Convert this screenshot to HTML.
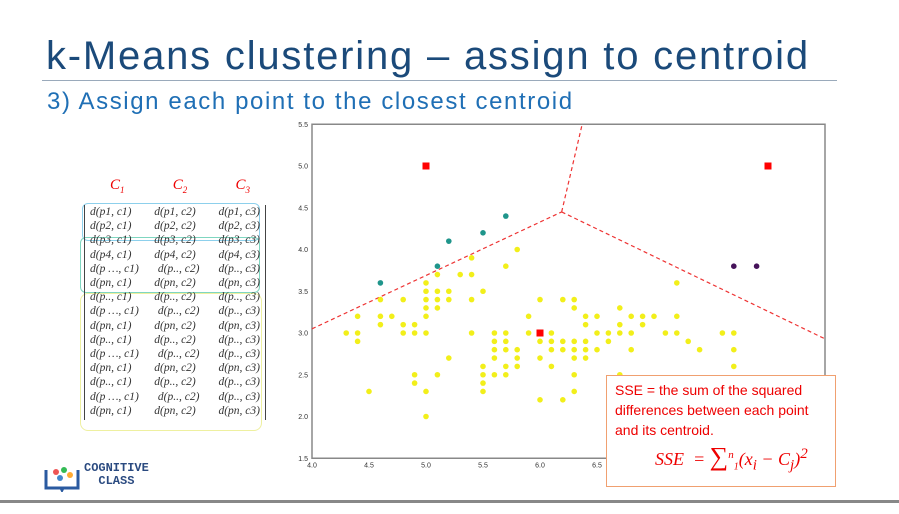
<!DOCTYPE html>
<html><head><meta charset="utf-8"><style>
body{margin:0;width:899px;height:514px;overflow:hidden;background:#fff;font-family:"Liberation Sans",sans-serif;position:relative}
.abs{position:absolute}
</style></head><body>
<div class="abs" style="left:46px;top:34px;font-size:40px;color:#1b4a7a;white-space:nowrap;letter-spacing:1.8px">k-Means clustering – assign to centroid</div>
<div class="abs" style="left:42px;top:80px;width:795px;height:1px;background:#9aaabb"></div>
<div class="abs" style="left:47px;top:88px;font-size:24px;color:#1f6fb5;white-space:nowrap;letter-spacing:1.6px">3) Assign each point to the closest centroid</div>
<div class="abs" style="left:0;top:500px;width:899px;height:3px;background:#888"></div>
<div class="abs" style="left:44px;top:462px;width:140px;height:32px">
 <svg width="36" height="30" style="position:absolute;left:0;top:0"><path d="M2 8v18h15l1 2 1-2h15V8" fill="none" stroke="#2a5aa0" stroke-width="3"/><circle cx="12" cy="10" r="3" fill="#e55"/><circle cx="20" cy="8" r="3" fill="#3b5"/><circle cx="26" cy="13" r="3" fill="#fa3"/><circle cx="16" cy="16" r="3" fill="#48c"/></svg>
 <div style="position:absolute;left:40px;top:0;font-size:12px;font-weight:bold;color:#2a4a80;line-height:13px;font-family:'Liberation Mono',monospace">COGNITIVE<br>&nbsp;&nbsp;CLASS</div>
</div>
<div class="abs" id="mx" style="left:80px;top:175px;width:190px;height:250px"></div>
<svg class="abs" style="left:0;top:0" width="899" height="514" id="chart"></svg>
<div class="abs" style="left:606px;top:375px;width:230px;height:112px;border:1.5px solid #f0a070;background:#fff;color:#e00;font-size:14px;line-height:20px;padding:4px 0 0 8px;box-sizing:border-box">SSE = the sum of the squared differences between each point and its centroid.
<div style="font-family:'Liberation Serif',serif;font-style:italic;font-size:18px;margin:4px 0 0 40px">SSE&nbsp; = <span style="font-size:26px;font-style:normal">∑</span><sup style="font-size:11px">n</sup><sub style="font-size:10px">1</sub>(x<sub>i</sub> − C<sub>j</sub>)<sup>2</sup></div></div>
<script>
const xTicks=[4.0,4.5,5.0,5.5,6.0,6.5,7.0,7.5,8.0];
const yTicks=[1.5,2.0,2.5,3.0,3.5,4.0,4.5,5.0,5.5];
const centroidX=[5.0,8.0,6.0];
const centroidY=[5.0,5.0,3.0];
const tealX=[4.6,5.1,5.2,5.5,5.7];
const tealY=[3.6,3.8,4.1,4.2,4.4];
const purpleX=[7.7,7.9];
const purpleY=[3.8,3.8];
const yellowRows=[3.9,4.0,3.8,3.7,3.6,3.5,3.4,3.3,3.2,3.1,3.0,2.9,2.8,2.7,2.6,2.5,2.4,2.3,2.2,2.0];
const yellowXs=[[5.4],[5.8],[5.7],[5.1,5.3,5.4],[5.0,7.2],[5.0,5.1,5.2,5.5],
[4.6,4.8,5.0,5.1,5.2,5.4,6.0,6.2,6.3],[5.0,5.1,6.3,6.7],
[4.4,4.6,4.7,5.0,5.9,6.4,6.5,6.8,6.9,7.0,7.2],[4.6,4.8,4.9,6.4,6.7,6.9],
[4.3,4.4,4.8,4.9,5.0,5.4,5.6,5.7,5.9,6.1,6.5,6.6,6.7,6.8,7.1,7.2,7.6,7.7],
[4.4,5.6,5.7,6.0,6.1,6.2,6.3,6.4,6.6,7.3],
[5.6,5.7,5.8,6.1,6.2,6.3,6.4,6.5,6.8,7.4,7.7],[5.2,5.6,5.8,6.0,6.3,6.4],
[5.5,5.7,5.8,6.1,7.7],[4.9,5.1,5.5,5.6,5.7,6.3,6.7],[4.9,5.5],[4.5,5.0,5.5,6.3],[6.0,6.2],[5.0]];
const boundaryX=[4.0,6.19,8.5];
const boundaryY=[3.05,4.45,2.93];
const boundaryTopX=6.37;
const NS="http://www.w3.org/2000/svg";
const svg=document.getElementById('chart');
const X=v=>312+(v-4)*114, Y=v=>166+(5-v)*83.5;
function el(t,a){const e=document.createElementNS(NS,t);for(const k in a)e.setAttribute(k,a[k]);svg.appendChild(e);return e;}
const fr=el('rect',{x:X(4),y:Y(5.5),width:X(8.5)-X(4),height:Y(1.5)-Y(5.5),fill:'none',stroke:'#888','stroke-width':1.5});


xTicks.forEach(t=>{if(t>6.5)return;const e=el('text',{x:X(t),y:Y(1.5)+9,'font-size':7,'text-anchor':'middle',fill:'#333'});e.textContent=t.toFixed(1);

});
yTicks.forEach(t=>{const e=el('text',{x:308,y:Y(t)+2.5,'font-size':7,'text-anchor':'end',fill:'#333'});e.textContent=t.toFixed(1);

});
const ln=(x1,y1,x2,y2)=>{const e=el('line',{x1,y1,x2,y2,stroke:'#e33','stroke-width':1.2,'stroke-dasharray':'4 3'});

};
ln(X(boundaryX[0]),Y(boundaryY[0]),X(boundaryX[1]),Y(boundaryY[1]));
ln(X(boundaryX[1]),Y(boundaryY[1]),X(boundaryX[2]),Y(boundaryY[2]));
ln(X(boundaryX[1]),Y(boundaryY[1]),X(boundaryTopX),Y(5.5));
yellowRows.forEach((y,i)=>yellowXs[i].forEach(x=>{const c=el('circle',{cx:X(x),cy:Y(y),r:2.8,fill:'#f2ef1a'});

}));
tealX.forEach((x,i)=>{const c=el('circle',{cx:X(x),cy:Y(tealY[i]),r:2.8,fill:'#1f958b'});

});
purpleX.forEach((x,i)=>{const c=el('circle',{cx:X(x),cy:Y(purpleY[i]),r:2.8,fill:'#46135a'});

});
centroidX.forEach((x,i)=>{const r=el('rect',{x:X(x)-3.5,y:Y(centroidY[i])-3.5,width:7,height:7,fill:'#f00'});

});
// matrix
const mx=document.getElementById('mx');
const rows=[["p1","p1","p1"],["p2","p2","p2"],["p3","p3","p3"],["p4","p4","p4"],["p …","p..","p.."],["pn","pn","pn"],
["p..","p..","p.."],["p …","p..","p.."],["pn","pn","pn"],["p..","p..","p.."],["p …","p..","p.."],["pn","pn","pn"],["p..","p..","p.."],["p …","p..","p.."],["pn","pn","pn"]];
let h='<div style="position:absolute;left:30px;top:2px;width:140px;color:#e00;font-family:Liberation Serif,serif;font-style:italic;font-size:15px;display:flex;justify-content:space-between"><span>C<sub style="font-size:9px">1</sub></span><span>C<sub style="font-size:9px">2</sub></span><span>C<sub style="font-size:9px">3</sub></span></div>';
h+='<div style="position:absolute;left:2px;top:28px;width:176px;height:36px;border:1px solid #8dd0ec;border-radius:6px"></div>';
h+='<div style="position:absolute;left:0;top:62px;width:178px;height:54px;border:1px solid #7fd6c0;border-radius:6px"></div>';
h+='<div style="position:absolute;left:0;top:118px;width:180px;height:136px;border:1px solid #eef0a0;border-radius:8px"></div>';
h+='<div style="position:absolute;left:4px;top:30px;width:180px;height:215px;border-left:1.5px solid #444;border-right:1.5px solid #444"></div>';
rows.forEach((r,i)=>{h+='<div style="position:absolute;left:10px;top:'+(31+i*14.2)+'px;width:170px;display:flex;justify-content:space-between;font-family:Liberation Serif,serif;font-style:italic;font-size:11.5px;color:#333">'+r.map((p,j)=>'<span>d('+p+', c'+(j+1)+')</span>').join('')+'</div>';});
mx.innerHTML=h;
</script>
</body></html>
